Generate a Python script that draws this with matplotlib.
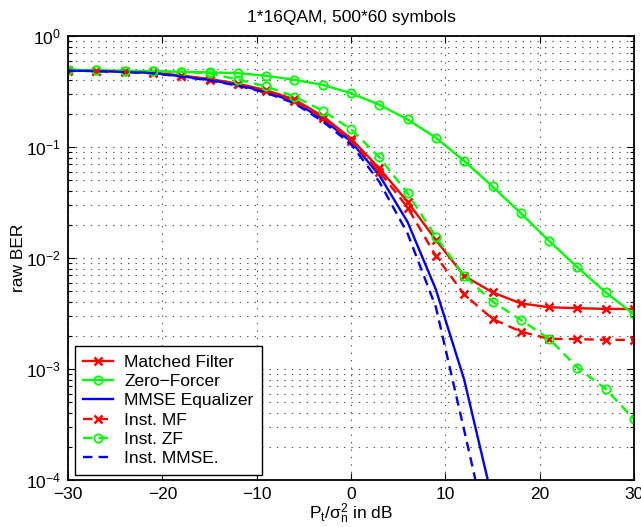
import numpy as np
import matplotlib
matplotlib.use('Agg')
import matplotlib.pyplot as plt
from matplotlib.ticker import LogLocator, NullLocator, NullFormatter

plt.rcParams['font.family'] = ['Liberation Sans', 'DejaVu Sans']
plt.rcParams['mathtext.fontset'] = 'custom'
plt.rcParams['mathtext.rm'] = 'Liberation Sans'
plt.rcParams['mathtext.it'] = 'Liberation Sans'
plt.rcParams['mathtext.default'] = 'regular'

# SNR grid in dB
snr_db = np.arange(-30, 31, 3)

# raw BER
ber_mf = [0.489, 0.486, 0.479, 0.469, 0.44, 0.41, 0.372, 0.325, 0.268, 0.19, 0.119,
          0.0642, 0.0321, 0.0145, 0.0069, 0.0049, 0.0039, 0.0036, 0.00353, 0.00348, 0.00347]
ber_zf = [0.496, 0.49, 0.485, 0.482, 0.476, 0.47, 0.463, 0.438, 0.403, 0.363, 0.305,
          0.24, 0.177, 0.121, 0.0747, 0.0441, 0.0253, 0.01425, 0.00824, 0.0049, 0.0031]
ber_mmse = [0.488, 0.484, 0.476, 0.465, 0.434, 0.402, 0.362, 0.314, 0.255, 0.178, 0.112,
            0.0558, 0.0211, 0.0052, 0.0008, 6.6e-5]
ber_inst_mf = [0.488, 0.484, 0.477, 0.466, 0.436, 0.405, 0.366, 0.318, 0.26, 0.184, 0.114,
               0.06, 0.0285, 0.0104, 0.0047, 0.00283, 0.00217, 0.00187, 0.00186, 0.00183, 0.00183]
ber_inst_zf = [0.496, 0.49, 0.485, 0.48, 0.475, 0.462, 0.405, 0.351, 0.285, 0.212, 0.1445,
               0.0807, 0.0382, 0.0155, 0.00695, 0.00405, 0.00277, 0.00187, 0.00103, 0.00066, 0.000353]
ber_inst_mmse = [0.487, 0.483, 0.474, 0.462, 0.43, 0.398, 0.357, 0.308, 0.248, 0.17, 0.106,
                 0.0486, 0.0166, 0.0036, 0.00028, 2.1e-5]

labels = ['Matched Filter', 'Zero\u2212Forcer', 'MMSE Equalizer', 'Inst. MF', 'Inst. ZF', 'Inst. MMSE.']

fig = plt.figure(figsize=(6.41, 5.27), dpi=100)
ax = fig.add_axes([68/641, 47/527, 566/641, 444/527])

lw = 1.7
xkw = dict(marker='x', ms=5.5, mew=1.8)
okw = dict(marker='o', ms=6, mew=1.3, mfc='none')
ax.semilogy(snr_db, ber_mf, '-', color=(1, 0, 0), lw=lw, label=labels[0], **xkw)
ax.semilogy(snr_db, ber_zf, '-', color=(0, 1, 0), lw=lw, label=labels[1], **okw)
ax.semilogy(snr_db[:len(ber_mmse)], ber_mmse, '-', color=(0, 0, 1), lw=lw, label=labels[2])
ax.semilogy(snr_db, ber_inst_mf, '--', color=(1, 0, 0), lw=lw, label=labels[3], dashes=(4, 2.6), **xkw)
ax.semilogy(snr_db, ber_inst_zf, '--', color=(0, 1, 0), lw=lw, label=labels[4], dashes=(4, 2.6), **okw)
ax.semilogy(snr_db[:len(ber_inst_mmse)], ber_inst_mmse, '--', color=(0, 0, 1), lw=lw,
            dashes=(4, 2.6), label=labels[5])

ax.set_xlim(-30, 30)
ax.set_ylim(1e-4, 1)
ax.set_xticks(np.arange(-30, 31, 10))
ax.xaxis.set_minor_locator(NullLocator())
ax.yaxis.set_major_locator(LogLocator(base=10, numticks=10))
ax.yaxis.set_minor_locator(LogLocator(base=10, subs=np.arange(2, 10), numticks=10))
ax.yaxis.set_minor_formatter(NullFormatter())

ax.tick_params(which='both', direction='in', top=True, right=True, labelsize=12.5, width=0.8, color='k')
ax.tick_params(which='major', length=5, pad=5)
ax.tick_params(which='minor', length=3)
gridkw = dict(linestyle=(0, (1.2, 5.5)), color='0.3', lw=0.8)
ax.grid(True, which='major', axis='both', **gridkw)
ax.grid(True, which='minor', axis='y', **gridkw)
for s in ax.spines.values():
    s.set_linewidth(1.3)

ax.set_title('1*16QAM, 500*60 symbols', fontsize=12.5, pad=10)
ax.set_xlabel('P$_t$/\u03c3$_n^2$ in dB', fontsize=12.5, labelpad=0)
ax.set_ylabel('raw BER', fontsize=12.5, labelpad=0)

leg = ax.legend(loc='lower left', bbox_to_anchor=(0.012, 0.011), borderaxespad=0,
                fontsize=12.5, handlelength=1.7, handletextpad=0.65, labelspacing=0.24,
                borderpad=0.5, fancybox=False, framealpha=1, edgecolor='k')
leg.get_frame().set_linewidth(1.0)

fig.savefig('out.png', dpi=100)
